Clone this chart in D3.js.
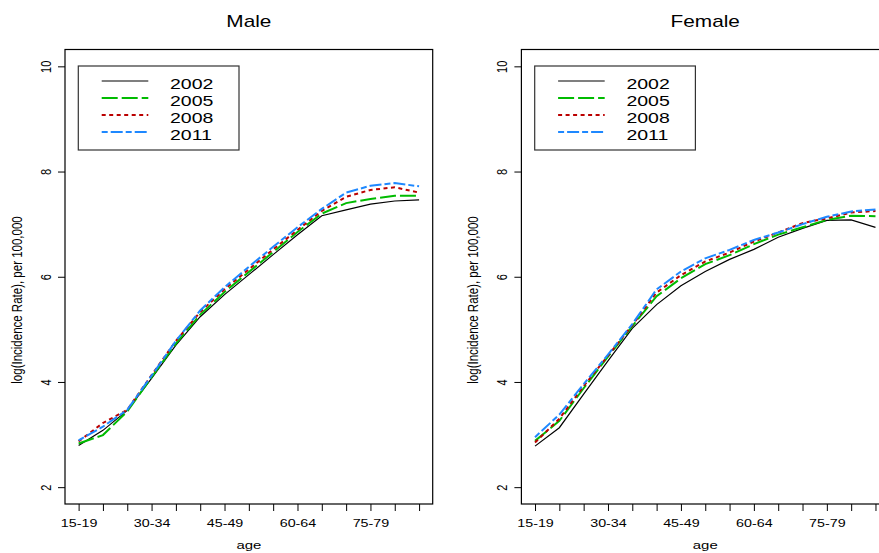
<!DOCTYPE html>
<html>
<head>
<meta charset="utf-8">
<script src="https://cdn.jsdelivr.net/npm/d3@7"></script>
<style>
  body { margin: 0; background: #fff; }
  svg { display: block; font-family: "Liberation Sans", Arial, sans-serif; }
</style>
</head>
<body>
<svg id="chart" width="879" height="553"></svg>
<script>
// age groups on the x axis
const ages = ["15-19","20-24","25-29","30-34","35-39","40-44","45-49","50-54",
              "55-59","60-64","65-69","70-74","75-79","80-84","85-89"];
const years = ["2002", "2005", "2008", "2011"];
const yTicks = [2, 4, 6, 8, 10];

// log incidence rate per 100,000
const male2002 = [2.79, 3.08, 3.46, 4.07, 4.70, 5.24, 5.66, 6.04, 6.42, 6.80, 7.16, 7.27, 7.38, 7.44, 7.46];
const male2005 = [2.83, 2.99, 3.44, 4.09, 4.73, 5.28, 5.71, 6.09, 6.47, 6.85, 7.20, 7.40, 7.48, 7.54, 7.54];
const male2008 = [2.87, 3.22, 3.47, 4.13, 4.78, 5.33, 5.76, 6.14, 6.52, 6.89, 7.25, 7.52, 7.65, 7.70, 7.60];
const male2011 = [2.89, 3.15, 3.47, 4.12, 4.78, 5.36, 5.80, 6.19, 6.57, 6.94, 7.29, 7.60, 7.73, 7.78, 7.72];

const female2002 = [2.78, 3.13, 3.77, 4.40, 5.02, 5.47, 5.83, 6.10, 6.33, 6.52, 6.75, 6.92, 7.07, 7.08, 6.94];
const female2005 = [2.88, 3.26, 3.88, 4.48, 5.06, 5.63, 5.97, 6.24, 6.41, 6.62, 6.80, 6.94, 7.08, 7.16, 7.15];
const female2008 = [2.85, 3.30, 3.92, 4.50, 5.08, 5.70, 6.03, 6.29, 6.46, 6.67, 6.84, 7.02, 7.11, 7.22, 7.25];
const female2011 = [2.95, 3.38, 3.96, 4.52, 5.10, 5.76, 6.10, 6.35, 6.51, 6.70, 6.84, 7.00, 7.14, 7.24, 7.28];

const colors = ["#000000", "#00bb00", "#bb0000", "#1e88ff"];
const dashes = [null, "16,4", "4,3.5", "6,3,12,3"];
const widths = [1.2, 2, 2, 2];

const svg = d3.select("#chart");
const SX = 1.3; // the original picture is stretched sideways

function panel(left, title, series) {
  const x = d3.scaleLinear().domain([0.44, 15.56]).range([left, left + 367.7]);
  const y = d3.scaleLinear().domain([1.68, 10.32]).range([504, 49.5]);
  const g = svg.append("g");

  g.append("text")
    .attr("transform", `translate(${(x.range()[0] + x.range()[1]) / 2},26.7) scale(${SX},1)`)
    .attr("text-anchor", "middle")
    .style("font-size", "16px")
    .text(title);

  // lines
  const line = d3.line().x((d, i) => x(i + 1)).y(d => y(d));
  series.forEach((s, k) => {
    g.append("path")
      .datum(s)
      .attr("d", line)
      .attr("fill", "none")
      .attr("stroke", colors[k])
      .attr("stroke-width", widths[k])
      .attr("stroke-dasharray", dashes[k]);
  });

  // box
  g.append("rect")
    .attr("x", x.range()[0]).attr("y", 49.5)
    .attr("width", 367.7).attr("height", 454.5)
    .attr("fill", "none").attr("stroke", "#000").attr("stroke-width", 1.2);

  // y axis
  const ya = g.append("g")
    .attr("transform", `translate(${left},0)`)
    .call(d3.axisLeft(y).tickValues(yTicks).tickSize(7).tickSizeOuter(0));
  ya.select(".domain").remove();
  ya.selectAll("text")
    .attr("x", null).attr("dy", null)
    .attr("text-anchor", "middle")
    .attr("transform", `translate(-14,0) scale(${SX},1) rotate(-90)`)
    .style("font-size", "11px").style("font-family", "Liberation Sans, Arial, sans-serif")
    .attr("fill", "#000");

  // x axis
  const xa = g.append("g")
    .attr("transform", "translate(0,504)")
    .call(d3.axisBottom(x).tickValues(d3.range(1, 16)).tickSize(7).tickSizeOuter(0)
      .tickFormat(d => (d - 1) % 3 === 0 ? ages[d - 1] : ""));
  xa.select(".domain").remove();
  xa.selectAll("text")
    .attr("y", null).attr("dy", null)
    .attr("transform", `translate(0,23.3) scale(${SX},1)`)
    .style("font-size", "11px").style("font-family", "Liberation Sans, Arial, sans-serif")
    .attr("fill", "#000");

  g.append("text")
    .attr("transform", `translate(${(x.range()[0] + x.range()[1]) / 2},549) scale(${SX},1)`)
    .attr("text-anchor", "middle")
    .style("font-size", "11.5px")
    .text("age");

  g.append("text")
    .attr("transform", `translate(${left - 43},300) scale(${SX},1) rotate(-90)`)
    .attr("text-anchor", "middle")
    .style("font-size", "11.5px")
    .text("log(Incidence Rate), per 100,000");

  // legend
  const lx = left + 13.3;
  g.append("rect")
    .attr("x", lx).attr("y", 66)
    .attr("width", 160.7).attr("height", 84)
    .attr("fill", "#fff").attr("stroke", "#333").attr("stroke-width", 1.2);
  years.forEach((yr, k) => {
    const ry = 81 + k * 17;
    g.append("line")
      .attr("x1", lx + 23.4).attr("x2", lx + 70)
      .attr("y1", ry).attr("y2", ry)
      .attr("stroke", colors[k])
      .attr("stroke-width", widths[k])
      .attr("stroke-dasharray", dashes[k]);
    g.append("text")
      .attr("transform", `translate(${lx + 91.7},${ry + 8.3}) scale(${SX},1)`)
      .style("font-size", "15px")
      .text(yr);
  });
}

panel(65, "Male", [male2002, male2005, male2008, male2011]);
panel(521.4, "Female", [female2002, female2005, female2008, female2011]);
</script>
</body>
</html>
